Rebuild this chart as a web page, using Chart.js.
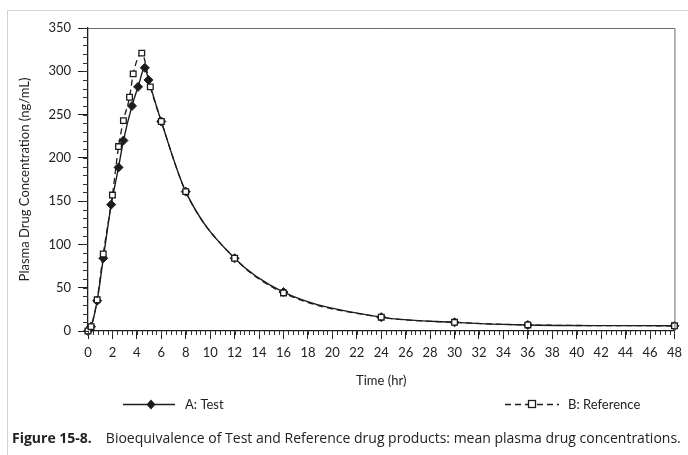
<!DOCTYPE html>
<html>
<head>
<meta charset="utf-8">
<title>Bioequivalence of Test and Reference drug products</title>
<script src="https://cdn.jsdelivr.net/npm/chart.js@4.4.1/dist/chart.umd.min.js"></script>
<style>
    html, body { margin: 0; padding: 0; background: #fff; }
    #wrap { position: relative; width: 688px; height: 455px; overflow: hidden; }
    #frame { position: absolute; left: 7px; top: 10px; width: 700px; height: 460px;
             border-left: 1px solid #d4d4d4; border-top: 1px solid #d4d4d4; }
    #caption { position: absolute; left: 12px; top: 428px; white-space: nowrap;
               font-family: "Open Sans", sans-serif; font-size: 14px; color: #222; }
    #caption b { margin-right: 14px; }
</style>
</head>
<body>
<div id="wrap">
    <div id="frame"></div>
    <canvas id="pk-chart" width="688" height="455"></canvas>
    <div id="caption"><b>Figure 15-8.</b>Bioequivalence of Test and Reference drug products: mean plasma drug concentrations.</div>
</div>
<script>
// Данные (время в часах, концентрация в нг/мл)
const testTimes = [0, 0.25, 0.75, 1.25, 1.9, 2.5, 2.9, 3.6, 4.1, 4.65, 4.95, 6, 8, 12, 16, 24, 30, 36, 48];
const testConc  = [0, 5, 35, 84, 146, 189, 220, 260, 282, 304, 290, 242, 161, 84, 45, 16, 10, 7, 6];

const refTimes = [0, 0.25, 0.75, 1.25, 2, 2.5, 2.9, 3.4, 3.7, 4.4, 5.1, 6, 8, 12, 16, 24, 30, 36, 48];
const refConc  = [0, 5, 36, 89, 157, 213, 243, 270, 297, 321, 282, 242, 161, 84, 44, 16, 10, 7, 6];

const xTicks = { min: 0, max: 48, step: 2, minor: 0.4 };
const yTicks = { min: 0, max: 350, step: 50, minor: 10 };

const seriesLabels = ['A: Test', 'B: Reference'];
const ink = '#1c1c1c';
const fontFamily = 'Lato, "Open Sans", sans-serif';

function toPoints(times, values) {
    return times.map((t, i) => ({ x: t, y: values[i] }));
}

// Мелкие деления, рамка и легенда
const extrasPlugin = {
    id: 'extras',
    afterDraw(chart) {
        const { ctx, chartArea, scales } = chart;
        const x = scales.x, y = scales.y;
        ctx.save();

        // мелкие деления
        ctx.strokeStyle = '#333';
        ctx.lineWidth = 1;
        ctx.beginPath();
        const nx = Math.round((xTicks.max - xTicks.min) / xTicks.minor);
        for (let i = 0; i <= nx; i++) {
            const px = Math.round(x.getPixelForValue(xTicks.min + i * xTicks.minor)) + 0.5;
            ctx.moveTo(px, chartArea.bottom);
            ctx.lineTo(px, chartArea.bottom + 4);
        }
        const ny = Math.round((yTicks.max - yTicks.min) / yTicks.minor);
        for (let i = 0; i <= ny; i++) {
            const py = Math.round(y.getPixelForValue(yTicks.min + i * yTicks.minor)) + 0.5;
            ctx.moveTo(chartArea.left - 5, py);
            ctx.lineTo(chartArea.left, py);
        }
        ctx.stroke();

        // верхняя и правая рамка
        ctx.strokeStyle = '#6a6a6a';
        ctx.beginPath();
        ctx.moveTo(chartArea.left, chartArea.top + 0.5);
        ctx.lineTo(chartArea.right + 0.5, chartArea.top + 0.5);
        ctx.lineTo(chartArea.right + 0.5, chartArea.bottom);
        ctx.stroke();

        // легенда
        const ly = 404.5;
        ctx.strokeStyle = ink;
        ctx.lineWidth = 1.3;
        ctx.setLineDash([]);
        ctx.beginPath();
        ctx.moveTo(123, ly);
        ctx.lineTo(175, ly);
        ctx.stroke();
        ctx.fillStyle = ink;
        ctx.beginPath();
        ctx.moveTo(151, ly - 5);
        ctx.lineTo(155.5, ly);
        ctx.lineTo(151, ly + 5);
        ctx.lineTo(146.5, ly);
        ctx.closePath();
        ctx.fill();

        ctx.setLineDash([6, 4]);
        ctx.beginPath();
        ctx.moveTo(505, ly);
        ctx.lineTo(528, ly);
        ctx.moveTo(537, ly);
        ctx.lineTo(559, ly);
        ctx.stroke();
        ctx.setLineDash([]);
        ctx.fillStyle = '#fff';
        ctx.fillRect(528.5, ly - 4, 7, 7);
        ctx.strokeRect(528.5, ly - 4, 7, 7);

        ctx.fillStyle = '#222';
        ctx.font = '13px ' + fontFamily;
        ctx.textBaseline = 'middle';
        ctx.fillText(seriesLabels[0], 185, ly);
        ctx.fillText(seriesLabels[1], 568, ly);
        ctx.restore();
    }
};

function initializeChart() {
    const ctx = document.getElementById('pk-chart').getContext('2d');

    new Chart(ctx, {
        type: 'line',
        data: {
            datasets: [{
                label: seriesLabels[0],
                data: toPoints(testTimes, testConc),
                borderColor: ink,
                borderWidth: 1.4,
                pointStyle: 'rectRot',
                pointRadius: 4.5,
                pointBackgroundColor: ink,
                pointBorderColor: ink,
                pointBorderWidth: 1,
                cubicInterpolationMode: 'monotone',
                clip: false,
                order: 1
            }, {
                label: seriesLabels[1],
                data: toPoints(refTimes, refConc),
                borderColor: ink,
                borderWidth: 1.3,
                borderDash: [6, 4],
                pointStyle: 'rect',
                pointRadius: 4,
                pointBackgroundColor: '#fff',
                pointBorderColor: ink,
                pointBorderWidth: 1.3,
                cubicInterpolationMode: 'monotone',
                clip: false,
                order: 0
            }]
        },
        options: {
            responsive: false,
            animation: false,
            layout: {
                padding: { left: 8, right: 8, top: 28, bottom: 62 }
            },
            plugins: {
                legend: { display: false },
                tooltip: { enabled: false }
            },
            scales: {
                x: {
                    type: 'linear',
                    min: xTicks.min,
                    max: xTicks.max,
                    afterFit: scale => { scale.height = 62; },
                    border: { display: true, color: ink, width: 1.3 },
                    grid: { drawOnChartArea: false, drawTicks: true, tickLength: 8, color: ink },
                    ticks: {
                        stepSize: xTicks.step,
                        padding: 6,
                        color: '#222',
                        font: { family: fontFamily, size: 13 },
                        maxRotation: 0,
                        autoSkip: false
                    },
                    title: {
                        display: true,
                        text: 'Time (hr)',
                        color: '#222',
                        font: { family: fontFamily, size: 13 },
                        padding: { top: 0, bottom: 4 }
                    }
                },
                y: {
                    min: yTicks.min,
                    max: yTicks.max,
                    afterFit: scale => { scale.width = 80; },
                    border: { display: true, color: ink, width: 1.3 },
                    grid: { drawOnChartArea: false, drawTicks: true, tickLength: 10, color: ink },
                    ticks: {
                        stepSize: yTicks.step,
                        padding: 7,
                        color: '#222',
                        font: { family: fontFamily, size: 13 }
                    },
                    title: {
                        display: true,
                        text: 'Plasma Drug Concentration (ng/mL)',
                        color: '#222',
                        font: { family: fontFamily, size: 13 },
                        padding: { top: 9, bottom: 0 }
                    }
                }
            }
        },
        plugins: [extrasPlugin]
    });
}

initializeChart();
</script>
</body>
</html>
